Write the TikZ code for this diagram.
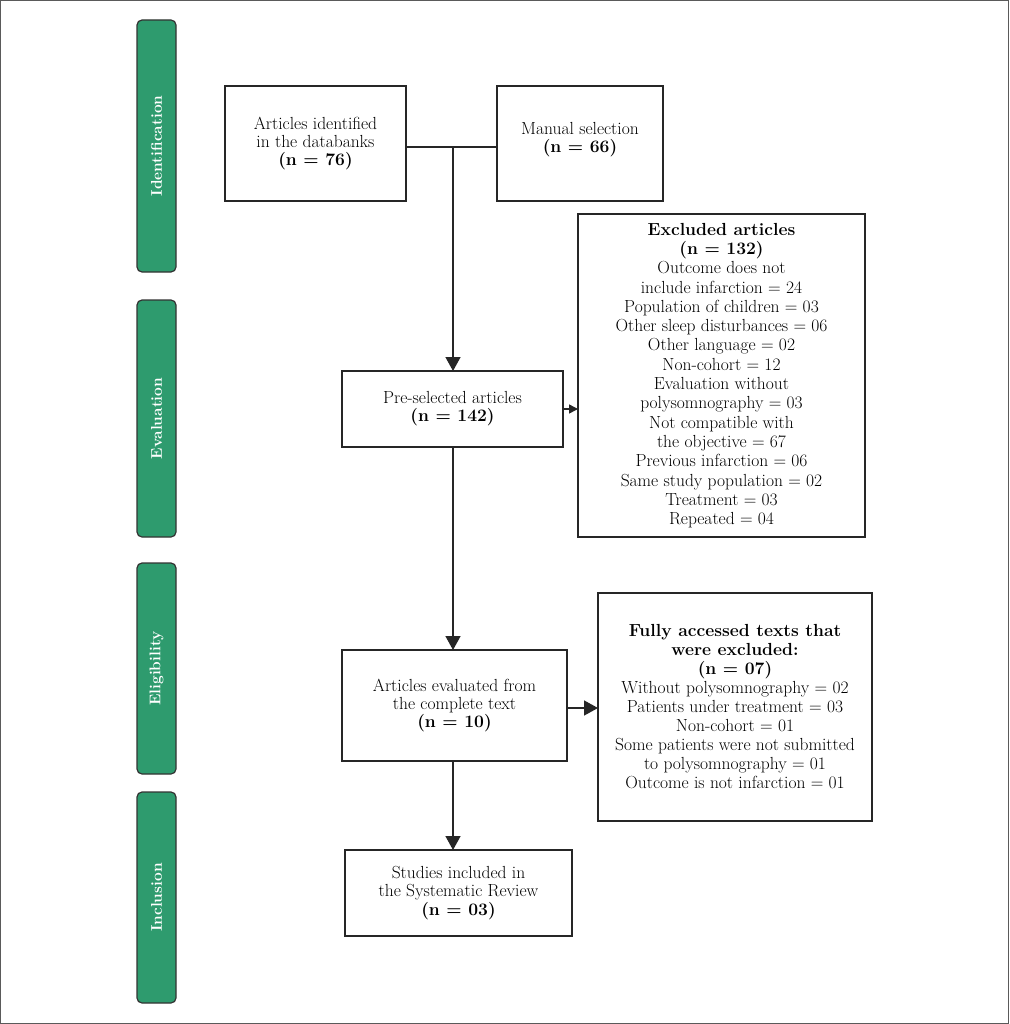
\documentclass[tikz,border=0pt]{standalone}
\usepackage{fontspec}
\usetikzlibrary{arrows.meta}
\definecolor{sidegreen}{RGB}{46,155,110}
\definecolor{framegray}{RGB}{90,90,90}
\begin{document}
\begin{tikzpicture}[x=1pt,y=-1pt,
  every node/.style={inner sep=0pt,outer sep=0pt},
  box/.style={draw=black!85,line width=1.5pt,rectangle,align=center,
    font=\fontsize{17.5}{18.1}\selectfont},
  side/.style={draw=black!80,line width=1.2pt,fill=sidegreen,rounded corners=5pt,
    minimum width=39pt},
  sidetext/.style={rotate=90,text=white,font=\fontsize{15.5}{18}\selectfont\bfseries},
  conn/.style={line width=1.5pt,draw=black!85},
  bigtip/.style={-{Triangle[width=15pt,length=14pt]}},
  smalltip/.style={-{Triangle[width=9pt,length=9pt]}}
]
\useasboundingbox (0,0) rectangle (1009,1024);
\draw[framegray,line width=1.2pt] (0.6,0.6) rectangle (1008.4,1023.4);

% side bars
\node[side,minimum height=252pt] (s1) at (156.5,146) {};
\node[sidetext] (t1) at (s1) {Identification};
\node[side,minimum height=237pt] (s2) at (156.5,418.5) {};
\node[sidetext] (t2) at (s2) {Evaluation};
\node[side,minimum height=211pt] (s3) at (156.5,668.5) {};
\node[sidetext] (t3) at (s3) {Eligibility};
\node[side,minimum height=211pt] (s4) at (156.5,897.5) {};
\node[sidetext] (t4) at (s4) {Inclusion};

% boxes
\node[box,minimum width=181pt,minimum height=115pt] (A) at (315.5,143.5)
  {Articles identified\\in the databanks\\\textbf{(n = 76)}};
\node[box,minimum width=166pt,minimum height=115pt,text depth=12pt] (B) at (580,143.5)
  {Manual selection\\\textbf{(n = 66)}};
\node[box,minimum width=221pt,minimum height=76pt] (C) at (452.5,409)
  {Pre-selected articles\\\textbf{(n = 142)}};
\node[box,minimum width=287pt,minimum height=323pt,
  font=\fontsize{17.5}{19.3}\selectfont] (X) at (721.5,375.5)
  {\textbf{Excluded articles}\\\textbf{(n = 132)}\\Outcome does not\\include infarction = 24\\
   Population of children = 03\\Other sleep disturbances = 06\\Other language = 02\\
   Non-cohort = 12\\Evaluation without\\polysomnography = 03\\Not compatible with\\
   the objective = 67\\Previous infarction = 06\\Same study population = 02\\
   Treatment = 03\\Repeated = 04};
\node[box,minimum width=225pt,minimum height=111pt] (D) at (454.5,705.5)
  {Articles evaluated from\\the complete text\\\textbf{(n = 10)}};
\node[box,minimum width=274pt,minimum height=228pt,
  font=\fontsize{17.5}{19}\selectfont] (E) at (735,707)
  {\textbf{Fully accessed texts that}\\\textbf{were excluded:}\\\textbf{(n = 07)}\\
   Without polysomnography = 02\\Patients under treatment = 03\\Non-cohort = 01\\
   Some patients were not submitted\\to polysomnography = 01\\Outcome is not infarction = 01};
\node[box,minimum width=227pt,minimum height=86pt] (F) at (458.5,893)
  {Studies included in\\the Systematic Review\\\textbf{(n = 03)}};

% connectors
\coordinate (J) at (453,147);
\draw[conn] (A.east |- J) -- (B.west |- J);
\draw[conn,bigtip] (J) -- (J |- C.north);
\draw[conn,smalltip] (C.east) -- (X.west |- C.east);
\draw[conn,bigtip] (J |- C.south) -- (J |- D.north);
\draw[conn,bigtip] (D.east |- 0,708) -- (E.west |- 0,708);
\draw[conn,bigtip] (J |- D.south) -- (J |- F.north);
\end{tikzpicture}
\end{document}
